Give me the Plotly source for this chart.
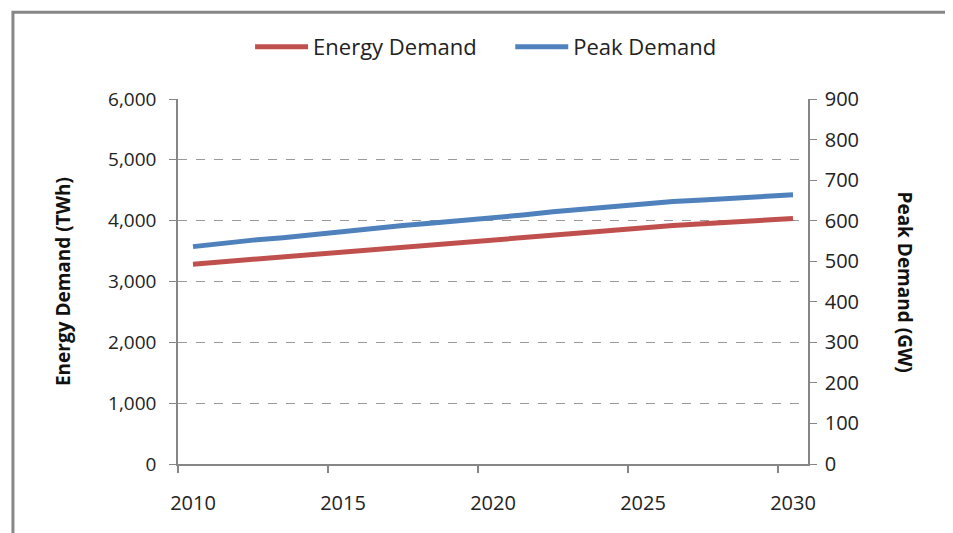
import plotly.graph_objects as go

years = list(range(2010, 2031))
energy_twh = [3285, 3325, 3365, 3410, 3450, 3490, 3530, 3570, 3605, 3645, 3685,
              3725, 3770, 3815, 3860, 3890, 3920, 3950, 3980, 4010, 4035]
peak_gw = [536, 545, 552, 558, 566, 574, 581, 588, 594, 600, 607,
           614, 622, 629, 636, 642, 647, 651, 656, 661, 664]
x_tick_vals = [2010, 2015, 2020, 2025, 2030]
x_tick_text = ["2010", "2015", "2020", "2025", "2030"]

FONT = "Open Sans, sans-serif"
AXIS_GRAY = "#868686"

fig = go.Figure()
fig.add_trace(go.Scatter(x=years, y=energy_twh,
                         name="Energy Demand&nbsp;&nbsp;&nbsp;&nbsp;&nbsp;",
                         mode="lines", line=dict(color="#C0504D", width=5), yaxis="y"))
fig.add_trace(go.Scatter(x=years, y=peak_gw, name="Peak Demand", mode="lines",
                         line=dict(color="#4F81BD", width=5), yaxis="y2"))

fig.update_layout(
    width=953, height=533,
    margin=dict(l=170, r=153, t=91, b=77),
    paper_bgcolor="white", plot_bgcolor="white",
    font=dict(family=FONT, size=19, color="#222"),
    showlegend=True,
    legend=dict(orientation="h", x=0.489, xanchor="center", y=1.1425, yanchor="middle",
                font=dict(size=22, family=FONT, color="#222"), itemwidth=53,
                tracegroupgap=0),
    xaxis=dict(range=[2009.5, 2030.5], tickvals=x_tick_vals, ticktext=x_tick_text,
               ticks="", showgrid=False, showline=True, linecolor=AXIS_GRAY, linewidth=1.5,
               zeroline=False, ticklabelstandoff=20, tickfont=dict(size=20),
               minor=dict(tick0=2009.5, dtick=5, ticks="outside", ticklen=7,
                          tickcolor=AXIS_GRAY, tickwidth=1.5, showgrid=False)),
    yaxis=dict(range=[0, 6000], dtick=1000, tickformat=",", ticks="outside", ticklen=7,
               tickcolor=AXIS_GRAY, showline=True, linecolor=AXIS_GRAY, linewidth=1.5,
               showgrid=True, gridcolor="#9a9a9a", griddash="dash", gridwidth=1,
               zeroline=False, ticklabelstandoff=9, tickfont=dict(size=19),
               title=dict(text="<b>Energy Demand (TWh)</b>", standoff=32,
                          font=dict(size=19, family=FONT, color="#111"))),
    yaxis2=dict(range=[0, 900], dtick=100, overlaying="y", side="right",
                ticks="outside", ticklen=7, tickcolor=AXIS_GRAY, showline=True,
                linecolor=AXIS_GRAY, linewidth=1.5, showgrid=False, zeroline=False,
                ticklabelstandoff=4, tickfont=dict(size=20)),
    shapes=[
        dict(type="rect", xref="paper", yref="paper", x0=-0.262, x1=1.6, y0=-0.6, y1=1.238,
             line=dict(color="#878787", width=3), fillcolor="rgba(0,0,0,0)", layer="below"),
    ],
    annotations=[
        dict(text="<b>Peak Demand (GW)</b>", xref="paper", yref="paper", x=1.154, y=0.5,
             textangle=90, showarrow=False, xanchor="center", yanchor="middle",
             font=dict(size=19, family=FONT, color="#111")),
    ],
)

fig.write_html("out.html")
